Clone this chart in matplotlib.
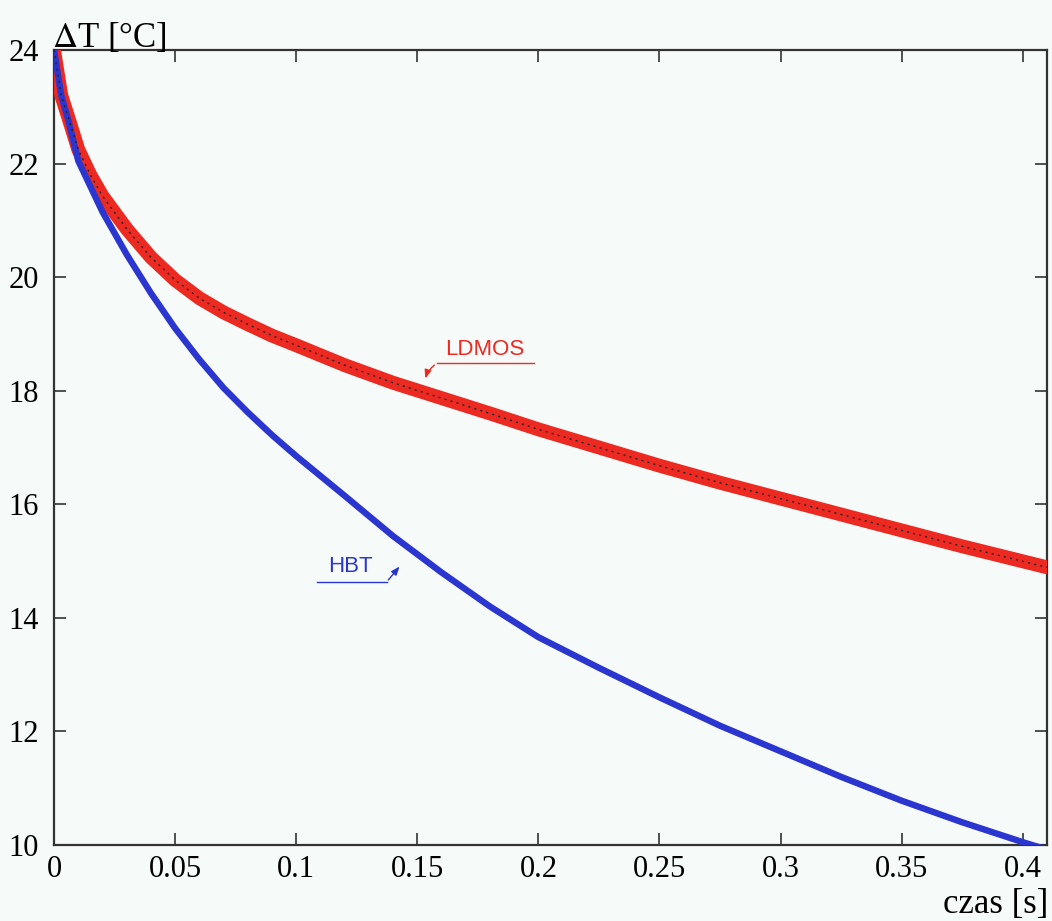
"""Cooling curves of LDMOS and HBT transistors (delta T versus time)."""

import matplotlib

matplotlib.use("Agg")
import matplotlib.pyplot as plt  # noqa: E402

# LDMOS (red band)
LDMOS_T = [0.0, 0.003, 0.006, 0.01, 0.015, 0.02, 0.03, 0.04, 0.05, 0.06, 0.07,
           0.08, 0.09, 0.1, 0.12, 0.14, 0.16, 0.18, 0.2, 0.225, 0.25, 0.275,
           0.3, 0.325, 0.35, 0.375, 0.41]
LDMOS_DT = [24.0, 23.2, 22.8, 22.25, 21.8, 21.43, 20.85, 20.35, 19.95, 19.63,
            19.38, 19.17, 18.97, 18.8, 18.45, 18.14, 17.87, 17.6, 17.32, 17.0,
            16.68, 16.38, 16.1, 15.82, 15.54, 15.26, 14.89]

# HBT (blue line)
HBT_T = [0.0, 0.003, 0.006, 0.01, 0.02, 0.03, 0.04, 0.05, 0.06, 0.07, 0.08,
         0.09, 0.1, 0.12, 0.14, 0.16, 0.18, 0.2, 0.225, 0.25, 0.275, 0.3,
         0.325, 0.35, 0.375, 0.4, 0.41]
HBT_DT = [24.0, 23.2, 22.75, 22.05, 21.15, 20.4, 19.72, 19.1, 18.55, 18.05,
          17.62, 17.22, 16.85, 16.15, 15.44, 14.8, 14.2, 13.66, 13.12, 12.6,
          12.1, 11.65, 11.2, 10.78, 10.4, 10.05, 9.92]

X_TICKS = [0.0, 0.05, 0.1, 0.15, 0.2, 0.25, 0.3, 0.35, 0.4]
X_TICK_LABELS = ["0", "0.05", "0.1", "0.15", "0.2", "0.25", "0.3", "0.35", "0.4"]
Y_TICKS = [10, 12, 14, 16, 18, 20, 22, 24]

RED = "#ec2a22"
BLUE = "#2b35cf"
BG = "#f6fbfa"
SPINE = "#333333"


def main() -> None:
    plt.rcParams.update(
        {
            "font.family": "serif",
            "font.serif": ["Liberation Serif", "DejaVu Serif"],
            "mathtext.fontset": "stix",
        }
    )
    fig = plt.figure(figsize=(10.52, 9.21), dpi=100, facecolor=BG)
    ax = fig.add_axes([54 / 1052, 1 - 845 / 921, 993 / 1052, 795 / 921])
    ax.set_facecolor(BG)

    ax.plot(LDMOS_T, LDMOS_DT, color=RED, linewidth=10, solid_capstyle="round",
            solid_joinstyle="round", zorder=3)
    ax.plot(LDMOS_T, LDMOS_DT, color="#222222", linewidth=1.0,
            linestyle=(0, (1.5, 3)), zorder=4)
    ax.plot(HBT_T, HBT_DT, color=BLUE, linewidth=4.6, solid_joinstyle="round",
            zorder=3)

    ax.set_xlim(0, 0.41)
    ax.set_ylim(10, 24)
    ax.set_xticks(X_TICKS)
    ax.set_xticklabels(X_TICK_LABELS)
    ax.set_yticks(Y_TICKS)
    ax.tick_params(direction="in", length=8.5, width=1.2, color=SPINE,
                   labelsize=22, top=True, right=True)
    ax.tick_params(axis="y", pad=11)
    ax.tick_params(axis="x", pad=7)
    for spine in ax.spines.values():
        spine.set_color(SPINE)
        spine.set_linewidth(1.6)

    # curve labels with underline and arrow
    sans = ["Liberation Sans", "DejaVu Sans"]
    ax.text(0.178, 18.73, "LDMOS", color=RED, fontsize=16, family=sans,
            ha="center", va="center")
    ax.plot([0.158, 0.198], [18.48, 18.48], color=RED, linewidth=1.0)
    ax.annotate("", xy=(0.153, 18.17), xytext=(0.158, 18.48),
                arrowprops=dict(arrowstyle="-|>,head_length=0.5,head_width=0.2",
                                color=RED, linewidth=1.0,
                                connectionstyle="arc3,rad=0.2"))
    ax.text(0.1225, 14.91, "HBT", color=BLUE, fontsize=16, family=sans,
            ha="center", va="center")
    ax.plot([0.1084, 0.1373], [14.63, 14.63], color=BLUE, linewidth=1.0)
    ax.annotate("", xy=(0.1434, 14.94), xytext=(0.1373, 14.63),
                arrowprops=dict(arrowstyle="-|>,head_length=0.5,head_width=0.2",
                                color=BLUE, linewidth=1.0))

    fig.text(52 / 1052, 1 - 47 / 921, r"$\Delta$T [°C]", fontsize=25,
             ha="left", va="baseline")
    fig.text(1048 / 1052, 1 - 913 / 921, "czas [s]", fontsize=25,
             ha="right", va="baseline")

    fig.savefig("out.png", dpi=100, facecolor=BG)
    plt.close(fig)


if __name__ == "__main__":
    main()
